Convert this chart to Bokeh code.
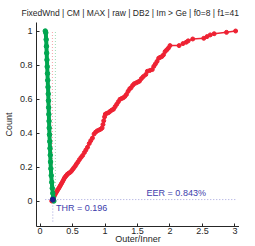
from bokeh.plotting import figure
from bokeh.models import FixedTicker, NumeralTickFormatter, Label
from bokeh.embed import file_html
from bokeh.resources import INLINE

# ---- data ----
green_x = [0.080, 0.088, 0.094, 0.098, 0.102, 0.106, 0.110, 0.114, 0.118, 0.122, 0.126, 0.129,
           0.132, 0.135, 0.138, 0.141, 0.145, 0.149, 0.153, 0.157, 0.161, 0.166, 0.172, 0.180,
           0.188, 0.196, 0.204, 0.212]
green_y = [1.000, 0.990, 0.950, 0.910, 0.870, 0.830, 0.790, 0.750, 0.710, 0.670, 0.630, 0.590,
           0.550, 0.510, 0.470, 0.430, 0.390, 0.350, 0.310, 0.270, 0.230, 0.190, 0.150, 0.110,
           0.075, 0.045, 0.020, 0.000]

red_x = [0.180, 0.195, 0.210, 0.225, 0.240, 0.255, 0.270, 0.285, 0.300, 0.315, 0.330, 0.345,
         0.360, 0.375, 0.390, 0.405, 0.420, 0.440, 0.460, 0.480, 0.500, 0.520, 0.540, 0.560,
         0.582, 0.605, 0.630, 0.655, 0.682, 0.705, 0.730, 0.757, 0.780, 0.806, 0.831, 0.855,
         0.881, 0.910, 0.935, 0.955, 0.968, 0.980, 0.993, 1.005, 1.030, 1.055, 1.080, 1.105,
         1.130, 1.155, 1.180, 1.205, 1.230, 1.255, 1.280, 1.305, 1.330, 1.355, 1.380, 1.400,
         1.425, 1.450, 1.480, 1.505, 1.530, 1.560, 1.590, 1.627, 1.652, 1.690, 1.727, 1.751,
         1.775, 1.800, 1.826, 1.850, 1.876, 1.900, 1.925, 1.950, 1.975, 2.000, 2.140, 2.200,
         2.250, 2.280, 2.350, 2.520, 2.570, 2.620, 2.680, 2.870, 3.010]
red_y = [0.000, 0.010, 0.022, 0.034, 0.045, 0.055, 0.064, 0.073, 0.083, 0.093, 0.103, 0.113,
         0.124, 0.135, 0.143, 0.150, 0.157, 0.163, 0.168, 0.175, 0.185, 0.195, 0.205, 0.217,
         0.229, 0.243, 0.256, 0.268, 0.285, 0.300, 0.316, 0.338, 0.355, 0.370, 0.394, 0.405,
         0.413, 0.418, 0.423, 0.430, 0.450, 0.472, 0.495, 0.511, 0.516, 0.520, 0.528, 0.535,
         0.540, 0.555, 0.569, 0.584, 0.598, 0.603, 0.607, 0.615, 0.627, 0.645, 0.660, 0.666,
         0.680, 0.690, 0.695, 0.700, 0.705, 0.720, 0.732, 0.744, 0.763, 0.768, 0.773, 0.792,
         0.806, 0.821, 0.840, 0.845, 0.850, 0.860, 0.879, 0.889, 0.899, 0.914, 0.914, 0.926,
         0.934, 0.942, 0.953, 0.957, 0.967, 0.977, 0.984, 0.992, 1.000]

thr = 0.196
eer = 0.00843
eer_label = "EER = 0.843%"
thr_label = "THR = 0.196"
red_min_x = 0.190
green_max_x = 0.236
data_min_x = 0.080
data_max_x = 3.010

y_ticks = [0, 0.2, 0.4, 0.6, 0.8, 1]
x_ticks = [0, 0.5, 1, 1.5, 2, 2.5, 3]

title_text = "FixedWnd | CM | MAX | raw | DB2 | Im > Ge | f0=8 | f1=41"

FONT = "Liberation Sans"
AX = "#262626"

p = figure(width=239, height=246, x_range=(-0.055, 3.07), y_range=(-0.15, 1.05),
           output_backend="svg", toolbar_location=None,
           min_border_left=29, min_border_right=0, min_border_top=20, min_border_bottom=20)
p.outline_line_color = None
p.xgrid.visible = False
p.ygrid.visible = False
p.background_fill_color = "white"
p.border_fill_color = "white"

p.title.text = title_text
p.title.text_font = FONT
p.title.text_font_size = "8.5px"
p.title.text_font_style = "normal"
p.title.text_color = AX
p.title.align = "left"
p.title.offset = -15
p.title.standoff = 10

for ax in (p.xaxis[0], p.yaxis[0]):
    ax.axis_line_color = AX
    ax.major_tick_line_color = AX
    ax.major_tick_in = 3
    ax.major_tick_out = 0
    ax.minor_tick_line_color = None
    ax.major_label_text_font = FONT
    ax.major_label_text_font_size = "9px"
    ax.major_label_text_color = AX
    ax.axis_label_text_font = FONT
    ax.axis_label_text_font_size = "9px"
    ax.axis_label_text_font_style = "normal"
    ax.axis_label_text_color = AX
    ax.formatter = NumeralTickFormatter(format="0.[0]")

p.xaxis.ticker = FixedTicker(ticks=x_ticks)
p.yaxis.ticker = FixedTicker(ticks=y_ticks)
p.xaxis.axis_label = "Outer/Inner"
p.yaxis.axis_label = "Count"
p.xaxis.major_label_standoff = 1
p.xaxis.axis_label_standoff = -3
p.yaxis.major_label_standoff = 4
p.yaxis.axis_label_standoff = 3

# dotted guides
p.line([red_min_x, red_min_x], [0, 1], line_color="#f5a3a8", line_dash="1 2", line_width=1)
p.line([green_max_x, green_max_x], [0, 1], line_color="#9fdcb4", line_dash="1 2", line_width=1)
p.line([data_min_x, data_max_x], [eer, eer], line_color="#a3a3dc", line_dash="1 2", line_width=1)
p.line([thr, thr], [eer, -0.13], line_color="#a3a3dc", line_dash="1 2", line_width=1)

# curves
p.line(red_x, red_y, line_color="#ee2233", line_width=1.5)
p.scatter(red_x, red_y, marker="circle", size=4, fill_color="#ee2233", line_color="#ee2233")
p.line(green_x, green_y, line_color="#00a650", line_width=4)
p.scatter(green_x, green_y, marker="circle", size=4.5, fill_color="#00a650", line_color="#00a650")

p.scatter([thr], [eer], marker="circle", size=5, fill_color="#1f1f8a", line_color="#1f1f8a")

p.add_layout(Label(x=1.64, y=eer, text=eer_label, text_font=FONT, text_font_size="9px",
                   text_color="#3c3cab", text_baseline="bottom", y_offset=2))
p.add_layout(Label(x=0.245, y=eer, text=thr_label, text_font=FONT, text_font_size="9px",
                   text_color="#3c3cab", text_baseline="top", y_offset=-3))

open("out.html", "w").write(file_html(p, INLINE))
